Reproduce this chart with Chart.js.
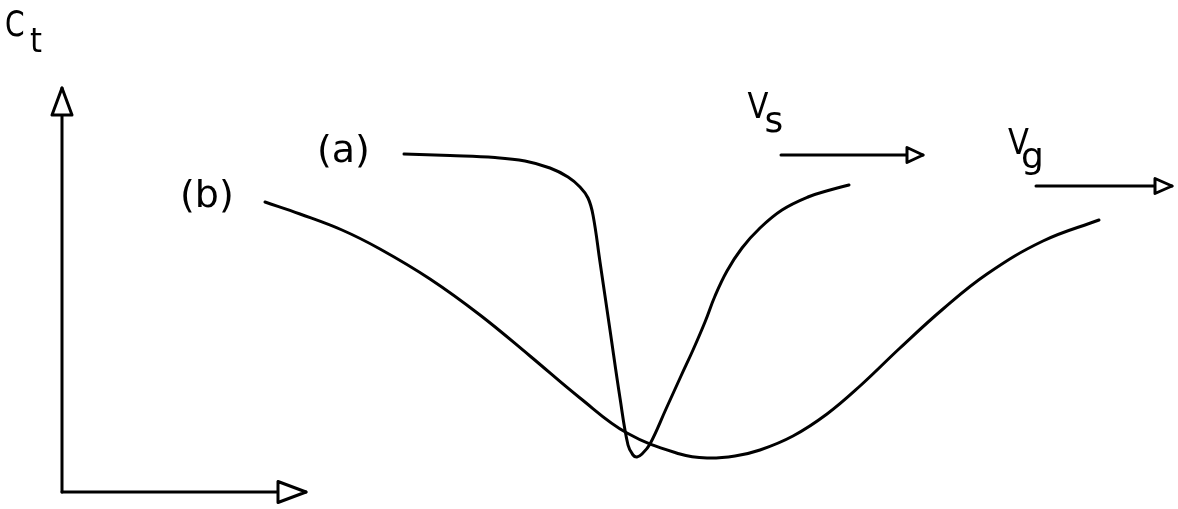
<!DOCTYPE html>
<html>
<head>
<meta charset="utf-8">
<title>C_t versus V_s and V_g</title>
<script src="https://cdn.jsdelivr.net/npm/chart.js@4/dist/chart.umd.min.js"></script>
<style>
  html, body { margin: 0; padding: 0; background: #fff; }
  #wrap { width: 1178px; height: 509px; }
</style>
</head>
<body>
<div id="wrap"><canvas id="c" width="1178" height="509"></canvas></div>
<script>
// Curve (a): C_t against V_s (sharp dip)
const curveA_V = [34.2, 38.8, 43.3, 46.3, 48.8, 50.6, 51.8, 52.6, 53.1, 53.8, 54.8, 55.8, 56.6, 57.1, 57.5, 58.0, 58.8, 60.4, 61.9, 63.1, 64.3, 65.3, 66.5, 68.0, 69.8, 72.0, 74.6, 76.8, 78.7];
const curveA_C = [33.8, 33.65, 33.45, 33.1, 32.4, 31.5, 30.5, 29.4, 27.7, 23.0, 16.2, 9.4, 4.7, 3.7, 3.5, 3.8, 4.8, 8.3, 11.6, 14.2, 17.0, 19.6, 22.1, 24.4, 26.4, 28.2, 29.5, 30.2, 30.7];

// Curve (b): C_t against V_g (broad dip)
const curveB_V = [20.3, 23.8, 28.0, 31.8, 36.8, 41.8, 46.8, 51.8, 56.5, 61.8, 64.5, 67.3, 69.8, 73.1, 76.5, 79.8, 83.8, 88.1, 92.5, 98.1, 103.7];
const curveB_C = [29.0, 27.8, 26.2, 24.3, 21.3, 17.7, 13.6, 9.4, 5.9, 3.8, 3.4, 3.6, 4.2, 5.6, 7.8, 10.6, 14.4, 18.3, 21.8, 25.1, 27.2];

// Axis extents (origin at the corner)
const axisC_end = 40.4;   // top of the C_t axis
const axisV_end = 24.4;   // end of the V axis

// Direction arrows for V_s and V_g: [start V, end V, level C]
const arrowVs = [71.9, 86.1, 33.7];
const arrowVg = [97.4, 111.0, 30.6];

// Text labels
const labelTexts = ['(a)', '(b)', 'C', 'V', 'V'];
const labelSubs  = ['', '', 't', 's', 'g'];

const toPts = (xs, ys) => xs.map((v, i) => ({ x: v, y: ys[i] }));

const lineStyle = {
  showLine: true,
  pointRadius: 0,
  pointHoverRadius: 0,
  borderColor: '#000',
  borderWidth: 3,
  borderCapStyle: 'round',
  borderJoinStyle: 'round',
  fill: false
};

// label placement (anchor = left end of the baseline, in data units)
const labelLayout = [
  { x: 25.5,  y: 33.0, size: 38, scaleX: 1.0 },
  { x: 11.8,  y: 28.5, size: 38, scaleX: 1.0 },
  { x: -5.7,  y: 45.6, size: 36, scaleX: 0.78, sub: { dx: 25, dy: 16, size: 34, scaleX: 0.9 } },
  { x: 68.55, y: 37.4, size: 36, scaleX: 0.85, sub: { dx: 17, dy: 14, size: 36, scaleX: 1.0 } },
  { x: 94.6,  y: 33.8, size: 36, scaleX: 0.85, sub: { dx: 13, dy: 14, size: 36, scaleX: 1.0 } }
];

// Open triangular heads at the last point of datasets that ask for one
const arrowHeads = {
  id: 'arrowHeads',
  afterDatasetsDraw(chart) {
    const ctx = chart.ctx;
    chart.data.datasets.forEach((ds, i) => {
      if (!ds.head) return;
      const pts = chart.getDatasetMeta(i).data;
      const a = pts[pts.length - 2], b = pts[pts.length - 1];
      const ang = Math.atan2(b.y - a.y, b.x - a.x);
      const L = ds.head.length, W = ds.head.half;
      const bx = b.x - Math.cos(ang) * L, by = b.y - Math.sin(ang) * L;
      const nx = -Math.sin(ang) * W, ny = Math.cos(ang) * W;
      ctx.save();
      ctx.beginPath();
      ctx.moveTo(bx + nx, by + ny);
      ctx.lineTo(b.x, b.y);
      ctx.lineTo(bx - nx, by - ny);
      ctx.closePath();
      ctx.fillStyle = '#fff';
      ctx.fill();
      ctx.lineWidth = 3;
      ctx.lineJoin = 'round';
      ctx.strokeStyle = '#000';
      ctx.stroke();
      ctx.restore();
    });
  }
};

const textLabels = {
  id: 'textLabels',
  afterDraw(chart) {
    const ctx = chart.ctx;
    const xs = chart.scales.x, ys = chart.scales.y;
    const put = (txt, px, py, size, sx) => {
      ctx.save();
      ctx.translate(px, py);
      ctx.scale(sx, 1);
      ctx.font = size + 'px "DejaVu Sans", sans-serif';
      ctx.fillStyle = '#000';
      ctx.textAlign = 'left';
      ctx.textBaseline = 'alphabetic';
      ctx.fillText(txt, 0, 0);
      ctx.restore();
    };
    labelTexts.forEach((t, i) => {
      const lay = labelLayout[i];
      const px = xs.getPixelForValue(lay.x), py = ys.getPixelForValue(lay.y);
      put(t, px, py, lay.size, lay.scaleX);
      if (labelSubs[i] && lay.sub) {
        put(labelSubs[i], px + lay.sub.dx, py + lay.sub.dy, lay.sub.size, lay.sub.scaleX);
      }
    });
  }
};

new Chart(document.getElementById('c'), {
  type: 'scatter',
  data: {
    datasets: [
      Object.assign({ label: '(a)', data: toPts(curveA_V, curveA_C), tension: 0.4 }, lineStyle),
      Object.assign({ label: '(b)', data: toPts(curveB_V, curveB_C), tension: 0.4 }, lineStyle),
      Object.assign({ label: 'C_t axis', data: [{ x: 0, y: 0 }, { x: 0, y: axisC_end }], tension: 0, head: { length: 27, half: 10 } }, lineStyle),
      Object.assign({ label: 'V axis', data: [{ x: 0, y: 0 }, { x: axisV_end, y: 0 }], tension: 0, head: { length: 28, half: 10.5 } }, lineStyle),
      Object.assign({ label: 'V_s', data: [{ x: arrowVs[0], y: arrowVs[2] }, { x: arrowVs[1], y: arrowVs[2] }], tension: 0, head: { length: 16, half: 7.5 } }, lineStyle),
      Object.assign({ label: 'V_g', data: [{ x: arrowVg[0], y: arrowVg[2] }, { x: arrowVg[1], y: arrowVg[2] }], tension: 0, head: { length: 17, half: 7.5 } }, lineStyle)
    ]
  },
  options: {
    responsive: false,
    animation: false,
    devicePixelRatio: 1,
    layout: { padding: 0 },
    scales: {
      x: { type: 'linear', min: -6.2, max: 111.6, display: false },
      y: { type: 'linear', min: -1.7, max: 49.2, display: false }
    },
    plugins: {
      legend: { display: false },
      tooltip: { enabled: false }
    }
  },
  plugins: [arrowHeads, textLabels]
});
</script>
</body>
</html>
